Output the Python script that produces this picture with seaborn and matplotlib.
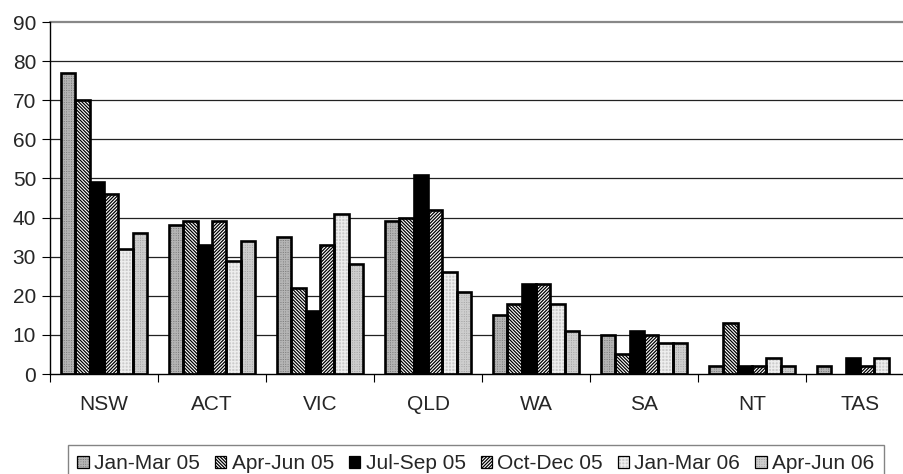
import matplotlib
matplotlib.use("Agg")
import matplotlib.pyplot as plt
from matplotlib.patches import Patch, Rectangle
import seaborn as sns
import pandas as pd

states = ["NSW", "ACT", "VIC", "QLD", "WA", "SA", "NT", "TAS"]
periods = ["Jan-Mar 05", "Apr-Jun 05", "Jul-Sep 05", "Oct-Dec 05", "Jan-Mar 06", "Apr-Jun 06"]

jan_mar_05 = [77, 38, 35, 39, 15, 10, 2, 2]
apr_jun_05 = [70, 39, 22, 40, 18, 5, 13, 0]
jul_sep_05 = [49, 33, 16, 51, 23, 11, 2, 4]
oct_dec_05 = [46, 39, 33, 42, 23, 10, 2, 2]
jan_mar_06 = [32, 29, 41, 26, 18, 8, 4, 4]
apr_jun_06 = [36, 34, 28, 21, 11, 8, 2, 0]

series = [jan_mar_05, apr_jun_05, jul_sep_05, oct_dec_05, jan_mar_06, apr_jun_06]

y_ticks = [0, 10, 20, 30, 40, 50, 60, 70, 80, 90]

rows = []
for period, vals in zip(periods, series):
    for st, v in zip(states, vals):
        rows.append({"state": st, "period": period, "count": v})
df = pd.DataFrame(rows)

# fill colour, hatch pattern and hatch colour for each period
styles = {
    "Jan-Mar 05": ("#7c7c7c", "+++++++", "#b4b4b4"),
    "Apr-Jun 05": ("#ffffff", "\\" * 10, "#000000"),
    "Jul-Sep 05": ("#000000", "", "#000000"),
    "Oct-Dec 05": ("#ffffff", "/" * 10, "#000000"),
    "Jan-Mar 06": ("#cccccc", "+++++", "#eeeeee"),
    "Apr-Jun 06": ("#a4a4a4", "+++++++", "#cdcdcd"),
}

sns.set_theme(style="white")
plt.rcParams["font.family"] = ["Liberation Sans", "DejaVu Sans"]
plt.rcParams["hatch.linewidth"] = 0.9

FS = 15

fig = plt.figure(figsize=(9.04, 4.74), dpi=100)
ax = fig.add_axes([50 / 904, 1 - 374 / 474, (914 - 50) / 904, (374 - 22) / 474])

palette = {p: styles[p][0] for p in periods}
sns.barplot(data=df, x="state", y="count", hue="period", order=states,
            hue_order=periods, palette=palette, width=0.8, saturation=1,
            legend=False, ax=ax, errorbar=None)

for period, container in zip(periods, ax.containers):
    face, hatch, hcol = styles[period]
    for bar in container:
        bar.set_facecolor(face)
        bar.set_edgecolor(hcol)
        bar.set_linewidth(0)
        bar.set_hatch(hatch)
        if bar.get_height() > 0:
            ax.add_patch(Rectangle(bar.get_xy(), bar.get_width(), bar.get_height(),
                                   fill=False, edgecolor="black", linewidth=1.9,
                                   zorder=bar.get_zorder() + 0.1))

ax.set_ylim(0, 90)
ax.set_xlim(-0.5, len(states) - 0.5)
ax.set_yticks(y_ticks)
ax.set_yticklabels([str(t) for t in y_ticks], fontsize=FS)
ax.tick_params(axis="y", direction="out", length=6, width=0.8, color="black",
               pad=4, left=True)

# category separators on the x axis
ax.set_xticks([i - 0.5 for i in range(len(states) + 1)], minor=True)
ax.tick_params(axis="x", which="minor", direction="out", length=6, width=0.8,
               color="black", bottom=True)
ax.set_xticks(range(len(states)))
ax.set_xticklabels(states, fontsize=FS)
ax.tick_params(axis="x", which="major", length=0, pad=15)

ax.set_xlabel("")
ax.set_ylabel("")

for t in y_ticks[1:-1]:
    ax.axhline(t, color="#222222", linewidth=0.9, zorder=0.5)
ax.axhline(90, color="#888888", linewidth=1.6, zorder=0.5, clip_on=False)

for side in ["top", "right"]:
    ax.spines[side].set_visible(False)
ax.spines["left"].set_color("black")
ax.spines["left"].set_linewidth(1.0)
ax.spines["bottom"].set_color("black")
ax.spines["bottom"].set_linewidth(1.0)
ax.set_axisbelow(True)

# legend keys: patterned fill with a black outline on top
handles = []
for p in periods:
    face, hatch, hcol = styles[p]
    fill = Patch(facecolor=face, edgecolor=hcol, hatch=hatch, linewidth=0)
    outline = Patch(facecolor="none", edgecolor="black", linewidth=0.9)
    handles.append((fill, outline))
leg = fig.legend(handles=handles, labels=periods, loc="upper left", ncol=6,
                 bbox_to_anchor=(68 / 904, 1 - 445 / 474),
                 fontsize=FS, frameon=True, fancybox=False,
                 handlelength=0.55, handleheight=0.55, handletextpad=0.25,
                 columnspacing=0.72, borderpad=0.45, borderaxespad=0)
leg.get_frame().set_edgecolor("#666666")
leg.get_frame().set_linewidth(1.0)

fig.savefig("out.png", dpi=100)
